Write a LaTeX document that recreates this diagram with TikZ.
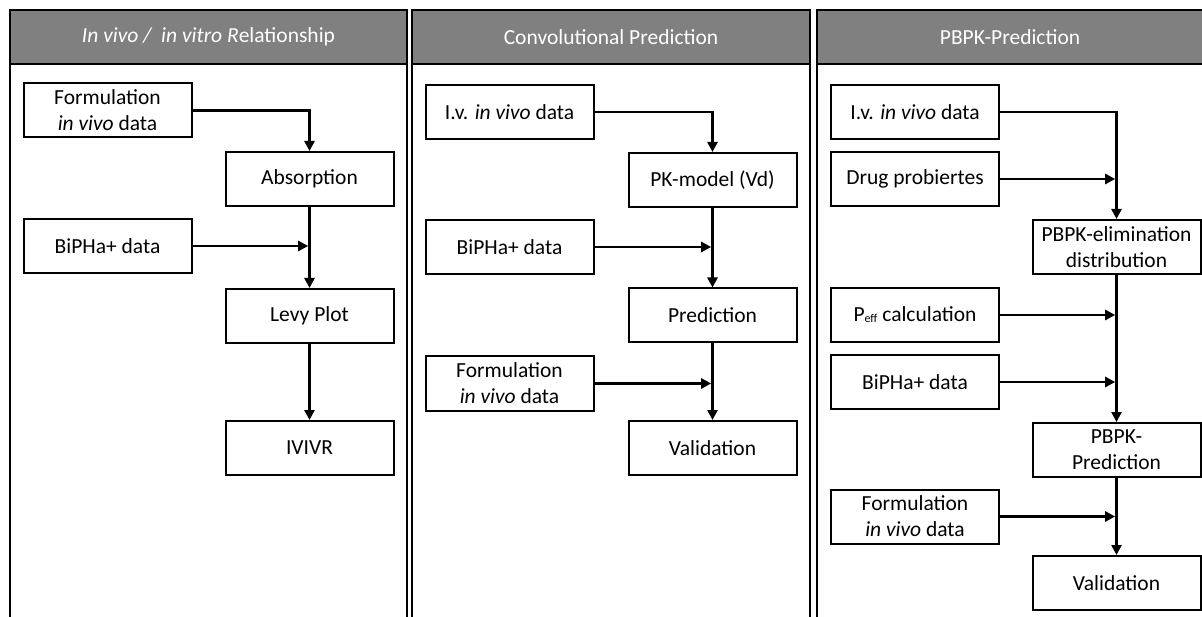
\documentclass[tikz,border=0pt]{standalone}
\usepackage{fontspec}
\setmainfont{Carlito}
\usetikzlibrary{arrows.meta}
\definecolor{headgray}{RGB}{128,128,128}
\begin{document}
\begin{tikzpicture}[x=1pt,y=-1pt,
  stepbox/.style={draw, line width=2pt, fill=white, minimum width=168pt,
    minimum height=54pt, inner sep=0pt, align=center,
    font=\fontsize{21.5}{26}\selectfont},
  flow/.style={line width=2.7pt, -{Triangle[length=10pt,width=10pt]}},
  side/.style={flow, shorten >=1.3pt},
  panel/.style={draw, line width=2.8pt},
  head/.style={panel, fill=headgray},
  headtext/.style={text=white, inner sep=0pt, font=\fontsize{21.5}{26}\selectfont}]

\useasboundingbox (0,0) rectangle (1202,617);
\clip (0,0) rectangle (1202,617);
\fill[white] (0,0) rectangle (1202,617);

% three column frames with grey title bars
\draw[panel] (10,64) rectangle (407,640);
\draw[head] (10,10) rectangle (407,64);
\draw[panel] (412,64) rectangle (810,640);
\draw[head] (412,10) rectangle (810,64);
\draw[panel] (817,64) rectangle (1220,640);
\draw[head] (817,10) rectangle (1220,64);

\node[headtext] (t1) at (208.5,37) {\textit{In vivo /\ \ in vitro R}elationship};
\node[headtext] (t2) at (611,37) {Convolutional Prediction};
\node[headtext] (t3) at (1010,37) {PBPK-Prediction};

% column 1: in vivo / in vitro relationship
\node[stepbox] (f1)    at (107.5,110.5) {Formulation\\\textit{in vivo} data};
\node[stepbox] (abs)   at (309.5,179)   {Absorption};
\node[stepbox] (bip1)  at (107.5,246)   {BiPHa+ data};
\node[stepbox] (levy)  at (309.5,316)   {Levy Plot};
\node[stepbox] (ivivr) at (309.5,448)   {IVIVR};

\draw[flow] (f1.east) -| (abs.north);
\draw[flow] (abs.south) -- (levy.north);
\draw[side] (bip1.east) -- (bip1.east -| abs.south);
\draw[flow] (levy.south) -- (ivivr.north);

% column 2: convolutional prediction
\node[stepbox] (iv2)  at (509.5,112)   {I.v. \textit{in vivo} data};
\node[stepbox] (pk)   at (712.5,180)   {PK-model (Vd)};
\node[stepbox] (bip2) at (509.5,247)   {BiPHa+ data};
\node[stepbox] (pred) at (712.5,315.5) {Prediction};
\node[stepbox] (f2)   at (509.5,383.5) {Formulation\\\textit{in vivo} data};
\node[stepbox] (val2) at (712.5,448)   {Validation};

\draw[flow] (iv2.east) -| (pk.north);
\draw[flow] (pk.south) -- (pred.north);
\draw[side] (bip2.east) -- (bip2.east -| pk.south);
\draw[flow] (pred.south) -- (val2.north);
\draw[side] (f2.east) -- (f2.east -| pred.south);

% column 3: PBPK prediction
\node[stepbox] (iv3)   at (915,112)    {I.v. \textit{in vivo} data};
\node[stepbox] (drug)  at (915,179)    {Drug probiertes};
\node[stepbox] (elim)  at (1116.5,247) {PBPK-elimination\\distribution};
\node[stepbox] (peff)  at (915,315)    {P\raisebox{-1pt}{\fontsize{12}{12}\selectfont eff} calculation};
\node[stepbox] (bip3)  at (915,382)    {BiPHa+ data};
\node[stepbox] (ppred) at (1116.5,450) {PBPK-\\Prediction};
\node[stepbox] (f3)    at (915,516.5)  {Formulation\\\textit{in vivo} data};
\node[stepbox] (val3)  at (1116.5,583) {Validation};

\draw[flow] (iv3.east) -| (elim.north);
\draw[side] (drug.east) -- (drug.east -| elim.north);
\draw[flow] (elim.south) -- (ppred.north);
\draw[side] (peff.east) -- (peff.east -| elim.south);
\draw[side] (bip3.east) -- (bip3.east -| elim.south);
\draw[flow] (ppred.south) -- (val3.north);
\draw[side] (f3.east) -- (f3.east -| ppred.south);
\end{tikzpicture}
\end{document}
